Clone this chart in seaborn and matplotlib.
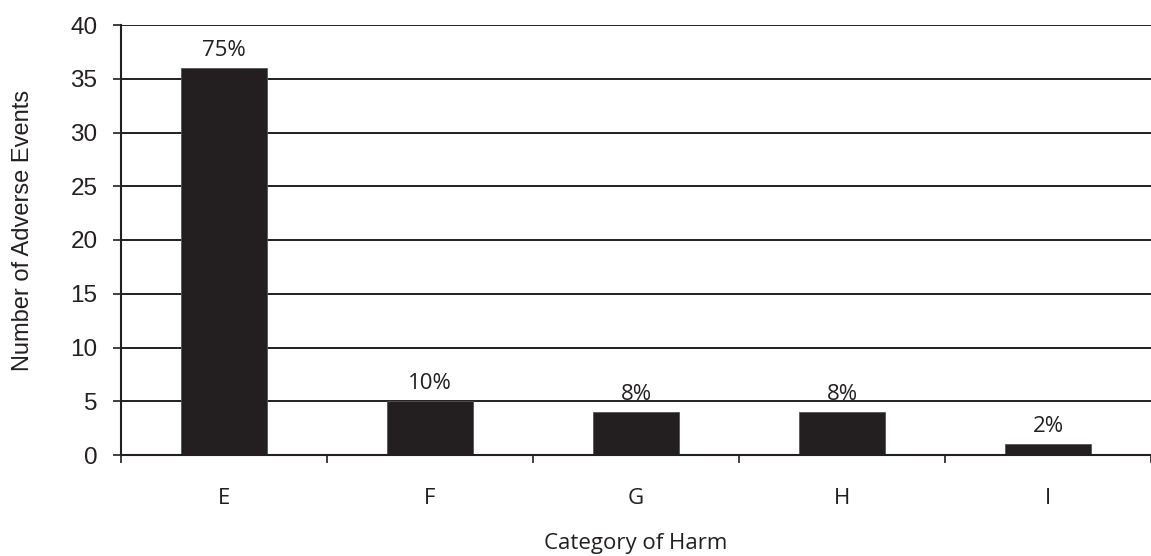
import matplotlib
matplotlib.use("Agg")
import matplotlib.pyplot as plt
import seaborn as sns
import pandas as pd

categories = ["E", "F", "G", "H", "I"]
counts = [36, 5, 4, 4, 1]
pct_labels = ["75%", "10%", "8%", "8%", "2%"]
yticks = [0, 5, 10, 15, 20, 25, 30, 35, 40]

sns.set_theme(style="white")
plt.rcParams['font.family'] = ['Open Sans', 'DejaVu Sans']

INK = "#231f20"
df = pd.DataFrame({"cat": categories, "n": counts})

fig = plt.figure(figsize=(11.51, 5.56), dpi=100)
ax = fig.add_axes([121/1151, 1 - 455/556, 1 - 121/1151, 430/556])

sns.barplot(data=df, x="cat", y="n", color=INK, width=0.413,
            saturation=1, ax=ax, zorder=3, linewidth=0.6, edgecolor="#555555")

ax.set_ylim(0, 40)
ax.set_xlim(-0.5, len(categories) - 0.5)
ax.set_yticks(yticks)
ax.set_yticklabels([str(t) for t in yticks], fontsize=17.5,
                   family=['Liberation Sans', 'DejaVu Sans'])
for t in yticks[1:]:
    ax.axhline(t, color=INK, lw=1.4, zorder=1)

# major ticks at boundaries (marks only), minor ticks at centers (labels)
ax.set_xticks([i - 0.5 for i in range(len(categories) + 1)])
ax.set_xticklabels([])
ax.set_xticks(range(len(categories)), minor=True)
ax.set_xticklabels(categories, minor=True, fontsize=16, color=INK)
ax.tick_params(axis="x", which="major", direction="out", length=6, width=1.2, color=INK, bottom=True)
ax.tick_params(axis="x", which="minor", length=0, pad=24)
ax.tick_params(axis="y", direction="out", length=6, width=1.2, color=INK, left=True, pad=11, labelcolor=INK)

for s in ["top", "right"]:
    ax.spines[s].set_visible(False)
for s in ["left", "bottom"]:
    ax.spines[s].set_color(INK)
    ax.spines[s].set_linewidth(1.5)
    ax.spines[s].set_zorder(4)

for i, (v, lab) in enumerate(zip(counts, pct_labels)):
    ax.annotate(lab, (i, v), xytext=(0, 9), textcoords="offset points",
                ha="center", va="baseline", fontsize=16, color=INK)

ax.set_xlabel("Category of Harm", fontsize=16, color=INK, labelpad=17)
ax.set_ylabel("Number of Adverse Events", fontsize=17, color=INK,
              family=['Liberation Sans', 'DejaVu Sans'])
ax.yaxis.set_label_coords((34 - 121) / 1030, 0.523)

fig.savefig("out.png", dpi=100)
